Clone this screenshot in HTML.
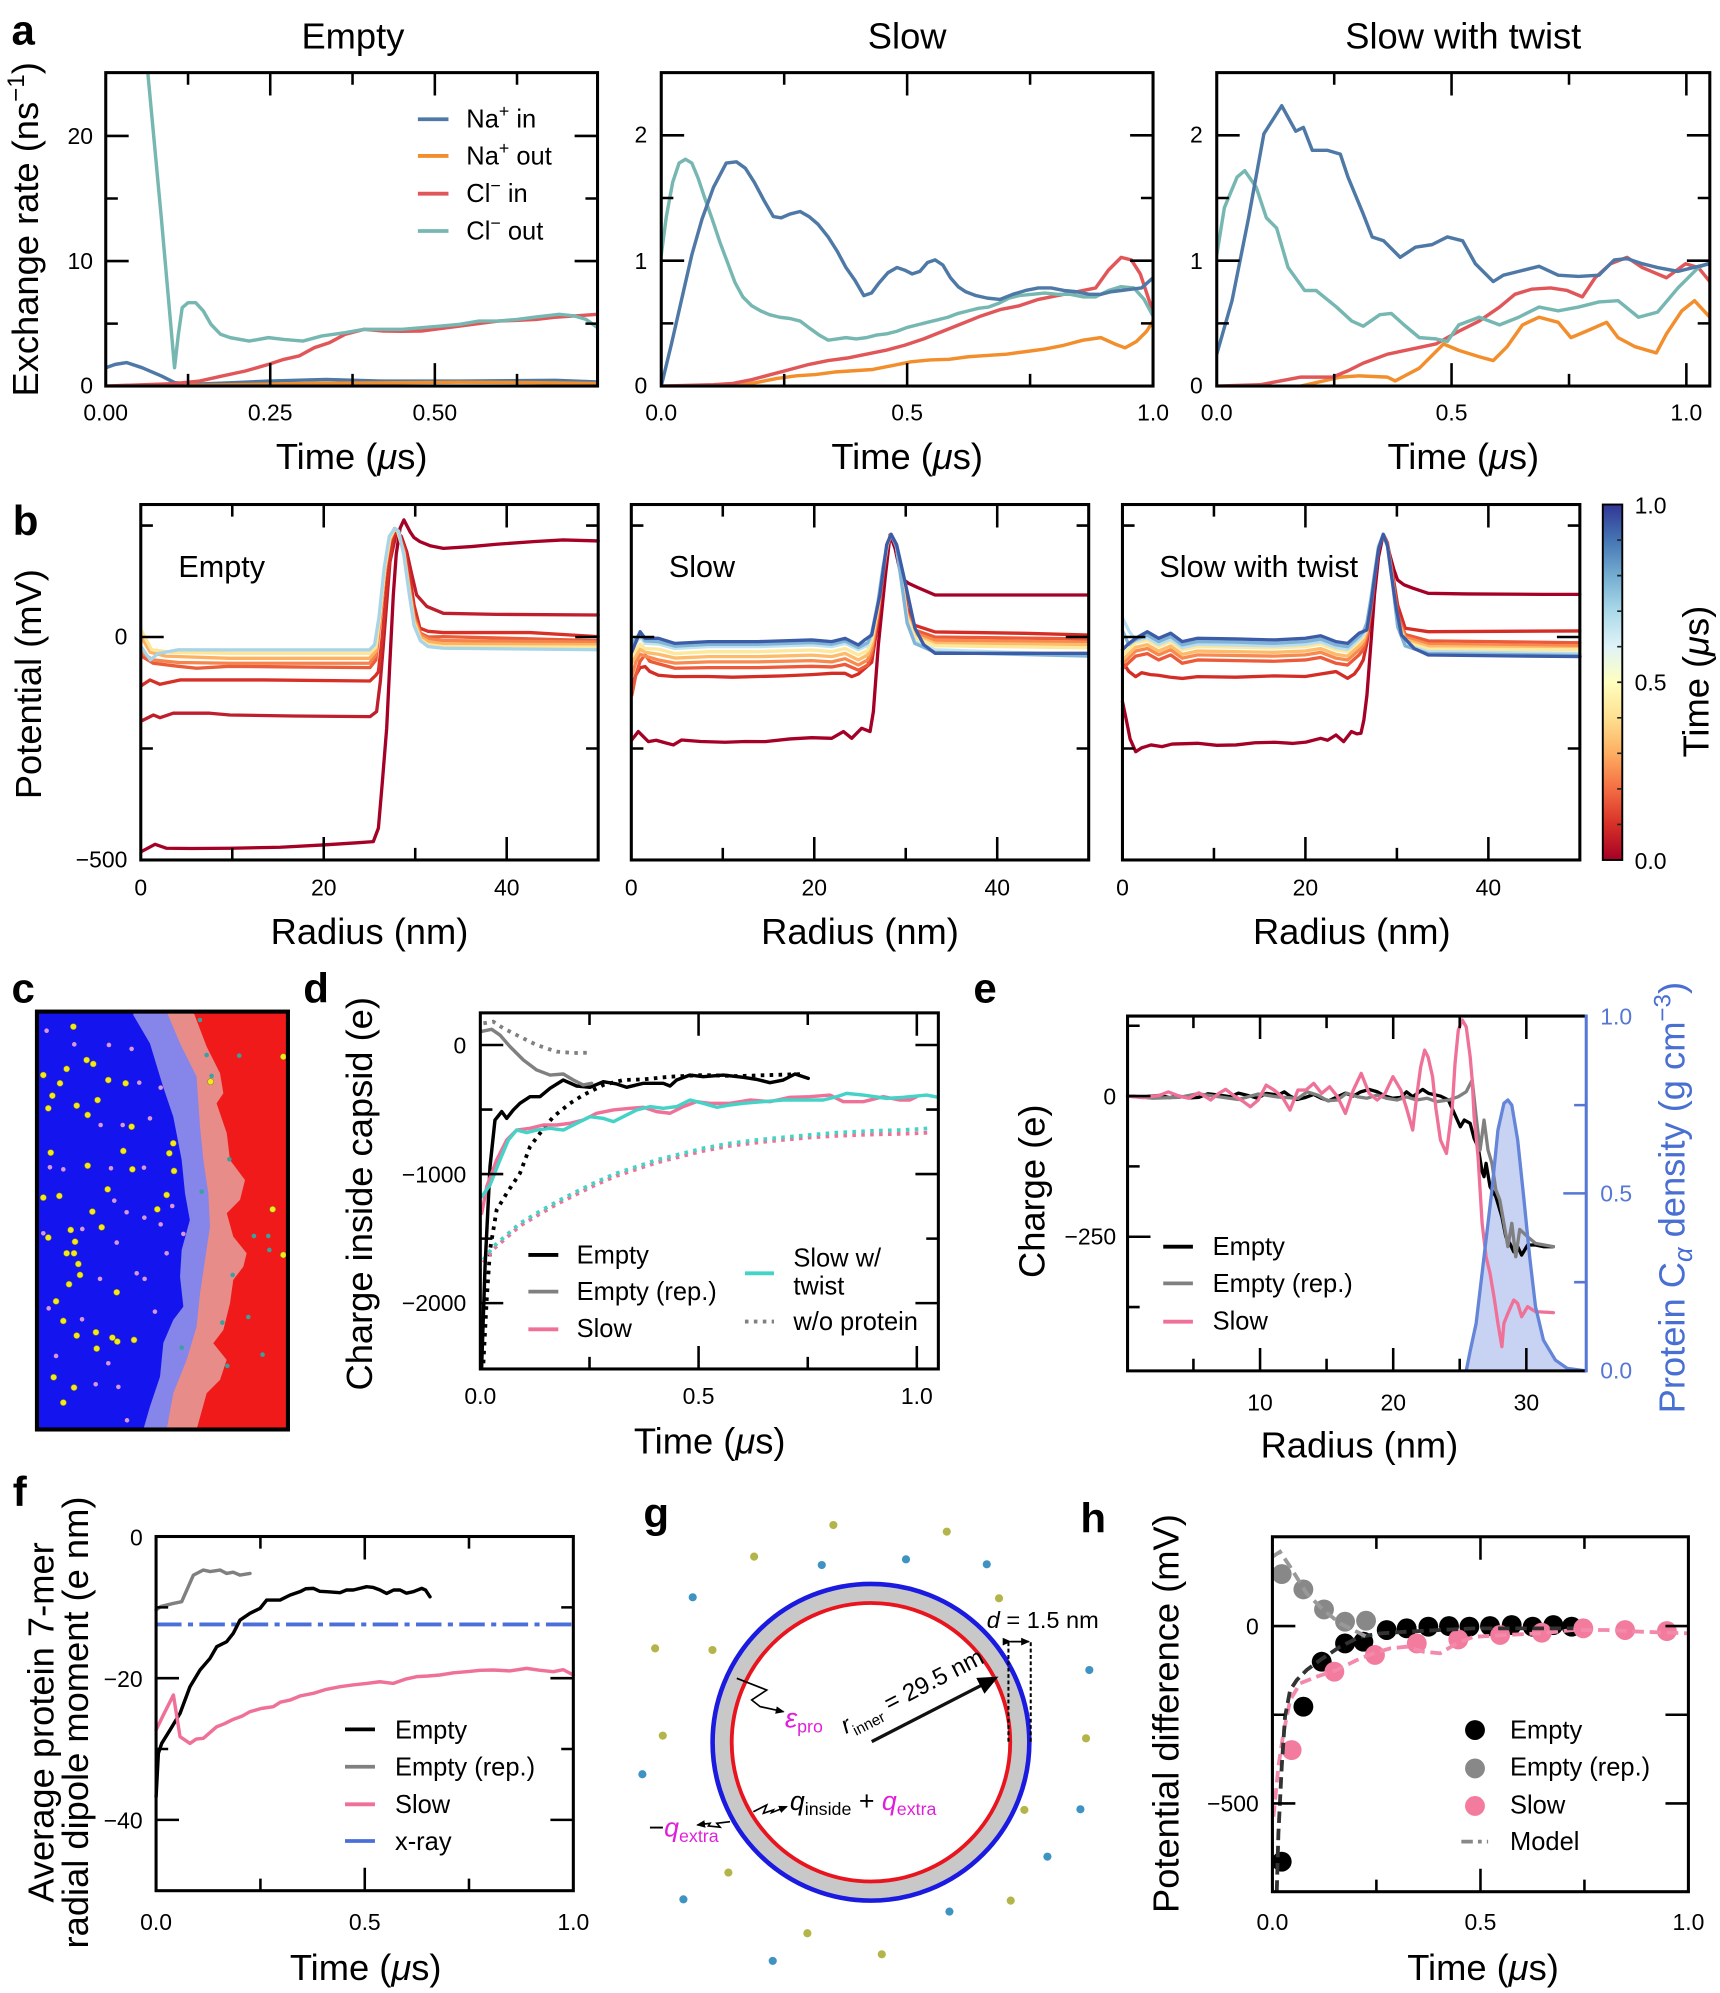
<!DOCTYPE html>
<html><head><meta charset="utf-8"><style>
html,body{margin:0;padding:0;background:#fff;}
svg{display:block;}
text{font-family:"Liberation Sans",Arial,sans-serif;fill:#000;}
.t{font-size:18px;}
.ax{font-size:28.5px;}
.lg{font-size:20px;}
.pl{font-size:33px;font-weight:bold;}
.sp{fill:none;stroke:#000;stroke-width:2.4;}
.tk{fill:none;stroke:#000;stroke-width:2;}
.ln{fill:none;stroke-width:2.7;stroke-linejoin:round;stroke-linecap:round;}
.lb{fill:none;stroke-width:2.6;stroke-linejoin:round;stroke-linecap:round;}
</style></head><body>
<svg xmlns="http://www.w3.org/2000/svg" width="1720" height="1993" viewBox="0 0 1350 1564.3" preserveAspectRatio="none">
<defs>
<clipPath id="ca1"><rect x="83" y="57" width="386" height="246"/></clipPath>
<clipPath id="ca2"><rect x="519" y="57" width="386" height="246"/></clipPath>
<clipPath id="ca3"><rect x="955" y="57" width="387" height="246"/></clipPath>
<clipPath id="cd"><rect x="377" y="795" width="359.5" height="279.5"/></clipPath>
<clipPath id="ch"><rect x="998.7" y="1206.2" width="326.5" height="278.6"/></clipPath>
<clipPath id="cc"><rect x="29" y="794" width="197" height="328"/></clipPath>
<linearGradient id="cb" x1="0" y1="1" x2="0" y2="0">
<stop offset="0" stop-color="#a50026"/><stop offset="0.1" stop-color="#d73027"/><stop offset="0.2" stop-color="#f46d43"/><stop offset="0.3" stop-color="#fdae61"/><stop offset="0.4" stop-color="#fee090"/><stop offset="0.5" stop-color="#ffffbf"/><stop offset="0.6" stop-color="#e0f3f8"/><stop offset="0.7" stop-color="#abd9e9"/><stop offset="0.8" stop-color="#74add1"/><stop offset="0.9" stop-color="#4575b4"/><stop offset="1" stop-color="#313695"/>
</linearGradient>
<marker id="ah" markerWidth="10" markerHeight="10" refX="8" refY="5" orient="auto" markerUnits="userSpaceOnUse"><path d="M0,0 L10,5 L0,10 Z" fill="#000"/></marker>
<marker id="ahs" markerWidth="7" markerHeight="7" refX="6" refY="3.5" orient="auto" markerUnits="userSpaceOnUse"><path d="M0,0.5 L7,3.5 L0,6.5 Z" fill="#000"/></marker>
<marker id="ahb" markerWidth="16" markerHeight="14" refX="13" refY="7" orient="auto" markerUnits="userSpaceOnUse"><path d="M0,0 L16,7 L0,14 Z" fill="#000"/></marker>
</defs>

<!-- Panel letters -->
<text class="pl" x="9" y="35">a</text>
<text class="pl" x="10" y="420">b</text>
<text class="pl" x="9" y="787">c</text>
<text class="pl" x="238" y="787">d</text>
<text class="pl" x="764" y="787">e</text>
<text class="pl" x="10" y="1182">f</text>
<text class="pl" x="505" y="1199">g</text>
<text class="pl" x="848" y="1203">h</text>

<!-- ================= PANEL A ================= -->
<text class="ax" x="277" y="38" text-anchor="middle">Empty</text>
<text class="ax" x="712" y="38" text-anchor="middle">Slow</text>
<text class="ax" x="1148.5" y="38" text-anchor="middle">Slow with twist</text>

<!-- A1 -->
<g clip-path="url(#ca1)">
<polyline class="ln" stroke="#4e79a7" points="83,288.6 90.5,286 99.5,284.6 111.5,288.6 126.6,295.1 137,300.3 150.6,301.7 180,300.5 210.7,299.1 255.7,297.8 300.8,299.1 360.9,299.1 435.9,298.5 469,299.8"/>
<polyline class="ln" stroke="#f28e2b" points="83,303 150,302.5 210,301.5 250,300.8 300,300.5 360,300 420,300.3 469,301"/>
<polyline class="ln" stroke="#e15759" points="83,303 135.6,301.2 156.6,299.1 174.6,295.1 192.6,291.2 210.7,286 222.7,282.1 234.7,279.4 246.7,272.9 258.7,268.9 270.8,262.4 285.8,258.5 300.8,259.8 315,260 330.8,259.8 345,258 360.9,255.9 375,254 390.9,252 405,251.5 420.9,250.7 435,249 451,248 469,246.7"/>
<polyline class="ln" stroke="#76b7b2" points="110.8,0 116,57 126.6,170.8 137,288.6 140,262.4 143,241.5 147.6,237.6 153.6,237.6 159.6,244.1 165.6,254.6 173.1,262.4 180.6,265 195.6,267.7 210.7,265 222.7,266.4 237.7,267.7 252.7,263.7 270.8,261.1 285.8,258.5 300.8,258.5 315.8,258.5 330.8,257.2 345.9,255.9 360.9,254.6 375.9,252 390.9,252 405.9,250.7 420.9,248.8 438.9,246.7 451,248 460,250.7 469,257.2"/>
</g>
<rect class="sp" x="83" y="57" width="386" height="246"/>
<path class="tk" d="M212.1 303v-18M341.3 303v-18M147.6 303v-9.5M276.7 303v-9.5M405.8 303v-9.5M212.1 57v18M341.3 57v18M147.6 57v9.5M276.7 57v9.5M405.8 57v9.5M83 204.9h18M83 106.7h18M83 254h9.5M83 155.8h9.5M469 204.9h-18M469 106.7h-18M469 254h-9.5M469 155.8h-9.5"/>
<text class="t" x="83" y="330" text-anchor="middle">0.00</text>
<text class="t" x="212.1" y="330" text-anchor="middle">0.25</text>
<text class="t" x="341.3" y="330" text-anchor="middle">0.50</text>
<text class="t" x="73" y="309" text-anchor="end">0</text>
<text class="t" x="73" y="211" text-anchor="end">10</text>
<text class="t" x="73" y="113" text-anchor="end">20</text>
<text class="ax" x="276" y="368" text-anchor="middle">Time (<tspan font-style="italic">μ</tspan>s)</text>
<text class="ax" transform="translate(30,180) rotate(-90)" text-anchor="middle">Exchange rate (ns<tspan font-size="19" dy="-11">−1</tspan><tspan dy="11">)</tspan></text>
<!-- legend A -->
<line x1="328" y1="93.6" x2="352" y2="93.6" stroke="#4e79a7" stroke-width="3"/>
<line x1="328" y1="122.4" x2="352" y2="122.4" stroke="#f28e2b" stroke-width="3"/>
<line x1="328" y1="152" x2="352" y2="152" stroke="#e15759" stroke-width="3"/>
<line x1="328" y1="181.3" x2="352" y2="181.3" stroke="#76b7b2" stroke-width="3"/>
<text class="lg" x="366" y="100">Na<tspan font-size="14" dy="-8">+</tspan><tspan dy="8"> in</tspan></text>
<text class="lg" x="366" y="129">Na<tspan font-size="14" dy="-8">+</tspan><tspan dy="8"> out</tspan></text>
<text class="lg" x="366" y="158.5">Cl<tspan font-size="14" dy="-8">−</tspan><tspan dy="8"> in</tspan></text>
<text class="lg" x="366" y="187.8">Cl<tspan font-size="14" dy="-8">−</tspan><tspan dy="8"> out</tspan></text>

<!-- A2 -->
<g clip-path="url(#ca2)">
<polyline class="ln" stroke="#f28e2b" points="519,303 580,302.5 595,300 610,297 625,295 640,294 655,292 670,291 685,290 700,287 715,284 730,282.5 745,282 760,280 775,279 790,278 805,276 820,274 835,271 850,267 864,265 875,270 883,273 892,268 900,260 905,252"/>
<polyline class="ln" stroke="#e15759" points="519,303 560,302 575,301 590,298 605,294 620,290 635,286 650,283 665,281 680,278 695,275 710,271 725,266 740,260 755,254 770,248 785,243 800,240 815,235 830,232 845,229 860,226 870,212 880,202 888,204 895,215 902,236 905,245"/>
<polyline class="ln" stroke="#76b7b2" points="519,200 523,170 528,143 533,128 538,125 543,128 548,140 553,155 559,172 565,190 571,206 577,222 583,233 590,240 597,244 604,247 612,249 620,250 628,252 636,258 643,263 650,267 657,266 664,265 672,266 680,265 688,263 696,262 704,260 712,257 720,255 728,253 736,251 744,249 752,246 760,244 768,242 776,241 784,238 792,234 800,232 810,231 820,230 830,231 840,231 850,233 860,233 870,228 880,225 890,226 898,235 905,248"/>
<polyline class="ln" stroke="#4e79a7" points="519,303 527,270 535,235 543,200 551,172 560,147 570,128 578,127 585,132 592,143 600,158 607,170 613,171 620,168 628,166 635,170 642,176 650,186 657,197 664,210 671,220 678,232 684,230 690,222 697,214 704,210 710,212 716,215 722,213 728,206 734,204 740,208 746,218 752,225 758,229 766,232 775,234 785,235 795,231 805,228 815,226 825,226 835,228 845,229 855,231 864,231 872,229 880,228 888,227 896,226 905,218"/>
</g>
<rect class="sp" x="519" y="57" width="386" height="246"/>
<path class="tk" d="M712 303v-18M615.5 303v-9.5M808.5 303v-9.5M712 57v18M615.5 57v9.5M808.5 57v9.5M519 204.6h18M519 106.2h18M519 253.8h9.5M519 155.4h9.5M905 204.6h-18M905 106.2h-18M905 253.8h-9.5M905 155.4h-9.5"/>
<text class="t" x="519" y="330" text-anchor="middle">0.0</text>
<text class="t" x="712" y="330" text-anchor="middle">0.5</text>
<text class="t" x="905" y="330" text-anchor="middle">1.0</text>
<text class="t" x="508" y="309" text-anchor="end">0</text>
<text class="t" x="508" y="211" text-anchor="end">1</text>
<text class="t" x="508" y="112" text-anchor="end">2</text>
<text class="ax" x="712" y="368" text-anchor="middle">Time (<tspan font-style="italic">μ</tspan>s)</text>

<!-- A3 -->
<g clip-path="url(#ca3)">
<polyline class="ln" stroke="#f28e2b" points="955,304 1021,303 1052,296 1067,295 1089,296 1095,299 1114,289 1133,270 1145,275 1161,280 1172,283 1183,272 1195,255 1208,249 1223,253 1233,265 1245,260 1261,253 1270,265 1283,272 1300,277 1308,262 1320,244 1330,236 1342,249"/>
<polyline class="ln" stroke="#e15759" points="955,303 989,302 1021,296 1046,296 1058,291 1070,285 1089,278 1108,274 1127,270 1145,260 1161,252 1177,241 1189,231 1202,227 1217,226 1230,228 1242,233 1252,218 1264,207 1277,202 1289,210 1308,218 1323,207 1333,210 1342,221"/>
<polyline class="ln" stroke="#76b7b2" points="955,200 961,163 971,139 977,134 986,147 994,171 1002,179 1011,210 1024,228 1033,228 1049,241 1061,252 1070,256 1083,247 1092,246 1102,255 1114,265 1127,266 1136,268 1145,255 1161,249 1177,255 1192,249 1208,241 1223,244 1239,241 1255,237 1270,236 1286,249 1301,245 1317,226 1333,210 1342,206"/>
<polyline class="ln" stroke="#4e79a7" points="955,278 967,236 980,171 992,105 1006,83 1017,103 1023,100 1030,118 1042,118 1052,121 1058,139 1070,168 1077,186 1086,189 1099,202 1111,194 1124,192 1136,186 1148,189 1158,207 1172,221 1180,216 1192,213 1208,209 1223,216 1239,217 1255,216 1267,204 1277,203 1289,207 1301,210 1317,213 1329,210 1342,207"/>
</g>
<rect class="sp" x="955" y="57" width="387" height="246"/>
<path class="tk" d="M1139.3 303v-18M1323.6 303v-18M1047.2 303v-9.5M1231.5 303v-9.5M1139.3 57v18M1323.6 57v18M1047.2 57v9.5M1231.5 57v9.5M955 204.6h18M955 106.2h18M955 253.8h9.5M955 155.4h9.5M1342 204.6h-18M1342 106.2h-18M1342 253.8h-9.5M1342 155.4h-9.5"/>
<text class="t" x="955" y="330" text-anchor="middle">0.0</text>
<text class="t" x="1139.3" y="330" text-anchor="middle">0.5</text>
<text class="t" x="1323.6" y="330" text-anchor="middle">1.0</text>
<text class="t" x="944" y="309" text-anchor="end">0</text>
<text class="t" x="944" y="211" text-anchor="end">1</text>
<text class="t" x="944" y="112" text-anchor="end">2</text>
<text class="ax" x="1148.5" y="368" text-anchor="middle">Time (<tspan font-style="italic">μ</tspan>s)</text>

<!-- ================= PANEL B ================= -->
<text class="ax" transform="translate(32,537) rotate(-90)" text-anchor="middle">Potential (mV)</text>
<!-- B1 Empty -->
<polyline class="lb" stroke="#a50026" points="111,668.4 121.7,662.7 130.8,665.8 150,666 180.5,665.8 220,665 253.8,663.2 280,661.5 293,660.6 297,650 300,615 303.5,571.6 306,520 308.7,467 311,435 314,414.7 317,408.1 321.8,417.3 325,422 329.6,425.1 338,428.5 348,430.4 370,429 389.8,427.2 420,425 442,423.8 469.5,424.6"/>
<polyline class="lb" stroke="#bf1e2d" points="111,565.9 120.4,561.2 125.6,563.3 136,559.8 164.8,559.8 180.5,561.2 230,562 290.4,562.5 295.6,558.5 298.5,535 300.9,506.2 306.1,440.8 311.3,417.3 315,421 319.2,433 323,450 327,467 335,476 348,481.4 389.8,482.2 469.5,482.7"/>
<polyline class="lb" stroke="#d73027" points="111,538.1 117.7,533.7 125.6,537.1 141.3,533.7 206.7,533.7 290.4,534.5 295,530 297,527.2 300,500 304,455 308,425 310.5,416 313,418 318,432 322,455 325,475 329.6,493.1 336,495.5 348,496.5 416,496.5 469.5,499.7"/>
<polyline class="lb" stroke="#e95d3b" points="111,515 120.4,520.6 140,523 154.4,524.5 180,523 230,523.5 290.4,524 295,518 298,490 302,450 306,425 309.5,415 312,417 317,432 321,458 325,483 330,497 336,500 348,499.7 469.5,502.8"/>
<polyline class="lb" stroke="#f5834b" points="111,512 120,518 140,520 180,520.6 290,520.6 295,514 298,488 302,448 306,424 309.7,415 312,417 317,433 321,460 325,485 330,498 336,501.5 348,502.8 469.5,504"/>
<polyline class="lb" stroke="#fdb163" points="111,500 118,512 130,515 180,516.7 290,516.7 295,511 298,485 302,447 306,423 309.8,415 312,417 317,434 321,462 325,487 330,500 336,503.5 348,505.4 469.5,506"/>
<polyline class="lb" stroke="#fee597" points="111,495 119,510 135,512 180,512.8 290,512.8 295,508 298,484 302,446 306,422 310,415 312.5,417 317,435 321,463 325,489 330,502 336,506 348,507.5 469.5,508"/>
<polyline class="lb" stroke="#a8d4e7" stroke-width="3.4" points="111,508 118,518 124,513 140,510 180,510.1 290,510.1 294,506 297.5,484 301.5,446 305.5,421 310,414.7 313,417 317,436 321,465 325,491 330,503 336,507.5 348,508.8 469.5,510"/>
<rect class="sp" x="110.5" y="396" width="359" height="279"/>
<path class="tk" d="M254.1 675v-18M397.7 675v-18M182.3 675v-9.5M325.9 675v-9.5M254.1 396v18M397.7 396v18M182.3 396v9.5M325.9 396v9.5M110.5 500h18M110.5 412.5h9.5M110.5 587.5h9.5M469.5 500h-18M469.5 412.5h-9.5M469.5 587.5h-9.5"/>
<text x="140" y="453" font-size="24">Empty</text>
<text class="t" x="110.5" y="703" text-anchor="middle">0</text>
<text class="t" x="254.1" y="703" text-anchor="middle">20</text>
<text class="t" x="397.7" y="703" text-anchor="middle">40</text>
<text class="t" x="100" y="506" text-anchor="end">0</text>
<text class="t" x="100" y="681" text-anchor="end">−500</text>
<text class="ax" x="290" y="741" text-anchor="middle">Radius (nm)</text>

<!-- B2 Slow -->
<polyline class="lb" stroke="#a50026" points="495.8,580.8 501,574.2 508.9,582.1 515,581 522,583 528.5,584.7 535,580.8 550,582 569.1,582.6 585,582 600.5,582.1 620,580 637.1,579 652.8,579.5 662,574.2 668.5,579.5 676.3,571.6 682.9,574.2 685.5,558.5 689.4,506.2 694.7,453.9 698.6,419.9 702.5,430.4 707.7,453.9 713,457.8 720,461 733.9,467 804.5,467 854.2,467"/>
<polyline class="lb" stroke="#d42d26" points="496,537.6 499,530 502.4,524 506.3,523.2 510,527 516.8,530 529.8,531.1 545,531 556,531 575,531.5 595,531 615,530.5 637,529.5 652.8,528.5 663.3,528.5 668.5,531.1 673.7,529 678.9,524.5 684.2,519.8 689,488.6 693,452.9 696.5,428.3 699.4,419.4 703.5,427.2 707.5,450.4 712,477.6 718,490.8 733.9,496 804.5,497.1 854.2,498.4"/>
<polyline class="lb" stroke="#ec5a3a" points="496,545.5 499,530 502.4,519 506.3,514 510,519 516.8,521 529.8,524.5 556,524 595,524 637,523 652.8,523.5 663.3,521.5 673.7,526 681,522 684.2,513.5 689,481.8 693,450.5 696.5,426 699.4,419.4 703.5,427.6 707.5,452 712,480.6 718,494.5 733.9,500 854.2,501.5"/>
<polyline class="lb" stroke="#f8894f" points="496,530 499,520 502.4,513.5 506.3,515 516.8,518 529.8,520.5 556,519.5 595,519.5 637,518.5 652.8,519.5 663.3,517 673.7,522 681,518 684.2,509.5 689,481.5 693,449.5 696.5,427.4 699.4,419.4 703.5,427.8 707.5,453.1 712,482.3 718,496.9 733.9,502.5 854.2,504"/>
<polyline class="lb" stroke="#fdbb6c" points="496,520 502.4,509.5 506.3,512 516.8,513.5 529.8,516.5 556,515.4 595,515.4 637,514.2 652.8,515.4 663.3,512.8 673.7,518 681,514 684.2,505.8 689,479 693,448.9 696.5,427.1 699.4,419.4 703.5,428 707.5,454 712,483.6 718,498.8 733.9,505 854.2,506"/>
<polyline class="lb" stroke="#fee89c" points="496,514 502.4,505.5 506.3,509 516.8,509.5 529.8,513 556,511.5 595,511.5 637,510.2 652.8,511.5 663.3,509 673.7,514 681,510.5 684.2,502.3 689,476.6 693,447.3 696.5,426.8 699.4,419.4 703.5,428.2 707.5,454.8 712,485 718,500.4 733.9,506.8 854.2,508.5"/>
<polyline class="lb" stroke="#c1e3ef" points="496,509 502.4,500 506.3,505 516.8,505.5 529.8,509 556,507.5 595,507.5 637,506.2 652.8,507.5 663.3,505 673.7,510 681,506.5 684.2,498.7 689,474 693,446 696.5,426.4 699.4,419.4 703.5,428.6 707.5,456 712,488 718,503.5 733.9,510 854.2,514"/>
<polyline class="lb" stroke="#80b5d7" points="496,505 502.4,497 506.3,503 516.8,503.7 529.8,507.2 556,505.7 595,505.7 637,504.4 652.8,505.7 663.3,503.1 673.7,508.3 681,504.5 684.2,497 689,473 693,445.6 696.5,426.3 699.4,419.4 703.5,428.7 707.5,456.5 712,489 718,505 733.9,512 854.2,515"/>
<polyline class="lb" stroke="#3d5ca8" stroke-width="3" points="496,511.5 502.4,495.8 506.3,501 516.8,501 529.8,505 556,503.6 595.2,503.6 637,502.3 652.8,503.6 663.3,501 673.7,506.2 679,502 684.2,498.4 690.6,467 695.9,427.7 699.4,419.4 703.8,427.7 710.3,456.5 718.2,493.2 725,506 733.9,512.8 800,512.8 854.2,512.8"/>
<rect class="sp" x="495.5" y="396" width="359" height="279"/>
<path class="tk" d="M639.1 675v-18M782.7 675v-18M567.3 675v-9.5M710.9 675v-9.5M639.1 396v18M782.7 396v18M567.3 396v9.5M710.9 396v9.5M495.5 500h18M495.5 412.5h9.5M495.5 587.5h9.5M854.5 500h-18M854.5 412.5h-9.5M854.5 587.5h-9.5"/>
<text x="525" y="453" font-size="24">Slow</text>
<text class="t" x="495.5" y="703" text-anchor="middle">0</text>
<text class="t" x="639.1" y="703" text-anchor="middle">20</text>
<text class="t" x="782.7" y="703" text-anchor="middle">40</text>
<text class="ax" x="675" y="741" text-anchor="middle">Radius (nm)</text>

<!-- B3 Twist -->
<polyline class="lb" stroke="#a50026" points="881,550.7 884,565 887,580 891.4,590 896,587 903.4,584.7 912,586 920,584 940,583.4 955,585 970.2,584.7 985,583 1000.4,582.6 1015,583.5 1025,582.5 1036.6,579.5 1042,581 1048.6,576.9 1054.6,582.1 1060.7,574.2 1065,576 1068.2,575.5 1070.5,565 1072.9,545.5 1076,505 1078.8,467 1082,437 1085.7,419.4 1088,424 1090.9,435.6 1094,447 1096.9,455.2 1102,459 1109,461.7 1121,465.7 1151.2,466.2 1211.5,466.5 1240,466.5"/>
<polyline class="lb" stroke="#d42d26" points="881,519.3 886,527 891.4,531.1 896,528 903,529.5 909,530 918,531.5 928,532.5 940,531.1 970,531.5 1000,530.5 1024.5,531 1036.6,529 1048.6,527.1 1057.7,532.4 1063,529 1066.7,524 1070,518 1072.8,505 1076,480 1079,455 1082,432 1085.7,419.4 1089,426 1093,450 1097,475 1102.9,493.1 1121,495.8 1180,495.5 1240,495.2"/>
<polyline class="lb" stroke="#ec5a3a" points="881,525 886,520 891.4,515 900.5,513 909.4,518 918.9,514 927.9,520.6 940,518 970,518.5 1000,519 1024.5,518 1036.6,516 1048.6,520.6 1057.7,522 1066.7,514 1070,510 1072.8,500 1076,478 1079,453 1082,431 1085.7,419.4 1089,427 1093,454 1097,482 1102.9,498 1121,503 1240,504.5"/>
<polyline class="lb" stroke="#f8894f" points="881,521 886,516 891.4,511 900.5,509 909.4,514 918.9,510 927.9,516.6 940,514 970,514.5 1000,515 1024.5,514 1036.6,512 1048.6,516.6 1057.7,518 1066.7,510 1070,506 1072.8,497 1076,476 1079,452 1082,430 1085.7,419.4 1089,427.5 1093,455 1097,485 1102.9,500 1121,505.5 1240,507"/>
<polyline class="lb" stroke="#fdbb6c" points="881,518 891.4,508 900.5,506 909.4,511 918.9,507 927.9,513.6 940,511 970,511.5 1000,512 1024.5,511 1036.6,509 1048.6,513.6 1057.7,515 1066.7,507 1070,503 1072.8,495 1076,474 1079,451 1082,430 1085.7,419.4 1089,428 1093,456 1097,487 1102.9,502 1121,507.5 1240,509"/>
<polyline class="lb" stroke="#fee89c" points="881,514 891.4,504.5 900.5,502.5 909.4,507.5 918.9,503.5 927.9,510 940,507.5 970,508 1000,508.5 1024.5,507.5 1036.6,505.5 1048.6,510 1057.7,511.5 1066.7,503.5 1070,500 1072.8,492 1076,472 1079,450 1082,429 1085.7,419.4 1089,428.5 1093,457 1097,489 1102.9,504 1121,509.4 1240,510"/>
<polyline class="lb" stroke="#b9def0" points="881,485 886,495 891.4,503 900.5,500.5 909.4,505.7 918.9,501.7 927.9,508.3 940,505.7 970,506.2 1000,507 1024.5,505.7 1036.6,503.7 1048.6,508.3 1057.7,509.7 1066.7,501.7 1070,498 1072.8,490 1076,470 1079,449 1082,429 1085.7,419.4 1089,429 1093,458 1097,491 1102.9,506 1121,511.5 1240,513"/>
<polyline class="lb" stroke="#7fb2d6" points="881,495 886,506 891.4,502 900.5,498.4 909.4,503.6 918.9,499.6 927.9,506.2 940,503.6 970,504 1000,505 1024.5,503.6 1036.6,501.6 1048.6,506.2 1057.7,507.6 1066.7,499.6 1070,496 1072.8,489 1076,470 1079,449 1082,429 1085.7,419.4 1089,429 1093,458 1097,492 1102.9,507 1121,513 1240,514.5"/>
<polyline class="lb" stroke="#3d5ca8" stroke-width="3" points="881,510 886,505 891.4,501 900.5,495.8 909.4,501 918.9,497 927.9,503.6 940,501 970.2,501.5 1000.4,502.3 1024.5,501 1036.6,499 1048.6,503.6 1057.7,505 1066.7,497 1072.8,494.5 1076,475 1078.8,453.9 1082,431 1085.7,419.4 1089,428 1092.5,453.9 1096,478 1100,498.4 1110,509 1121,514.1 1180,514.8 1240.2,515.4"/>
<rect class="sp" x="881" y="396" width="359" height="279"/>
<path class="tk" d="M1024.6 675v-18M1168.2 675v-18M952.8 675v-9.5M1096.4 675v-9.5M1024.6 396v18M1168.2 396v18M952.8 396v9.5M1096.4 396v9.5M881 500h18M881 412.5h9.5M881 587.5h9.5M1240 500h-18M1240 412.5h-9.5M1240 587.5h-9.5"/>
<text x="910" y="453" font-size="24">Slow with twist</text>
<text class="t" x="881" y="703" text-anchor="middle">0</text>
<text class="t" x="1024.6" y="703" text-anchor="middle">20</text>
<text class="t" x="1168.2" y="703" text-anchor="middle">40</text>
<text class="ax" x="1061" y="741" text-anchor="middle">Radius (nm)</text>

<!-- colorbar -->
<rect x="1258" y="396" width="15.3" height="279" fill="url(#cb)" stroke="#000" stroke-width="1.5"/>
<path d="M1273.3 647.1h-4M1273.3 619.2h-4M1273.3 591.3h-4M1273.3 563.4h-4M1273.3 535.5h-4M1273.3 507.6h-4M1273.3 479.7h-4M1273.3 451.8h-4M1273.3 423.9h-4" stroke="#222" stroke-width="1.3"/>
<text class="t" x="1283" y="403">1.0</text>
<text class="t" x="1283" y="542">0.5</text>
<text class="t" x="1283" y="682">0.0</text>
<text class="ax" transform="translate(1341,535) rotate(-90)" text-anchor="middle">Time (<tspan font-style="italic">μ</tspan>s)</text>

<!-- ================= PANEL C ================= -->
<g clip-path="url(#cc)">
<rect x="29" y="794" width="197" height="328" fill="#1414ee"/>
<polygon fill="#8585ea" points="104.6,794 104.6,796.7 117.7,819 128,853 136,876.5 142.6,910.5 145.2,936.6 149,957.6 142.6,981 141.3,1002 143.9,1025.6 136,1036 128.2,1054 125.6,1080.5 117.7,1104 112.5,1122 226,1122 226,794"/>
<polygon fill="#e78c88" points="130.8,794 141.3,819 154.3,845 157,884.3 159.6,910.5 163.5,936.6 164.8,962.8 160.9,989 157,1015 154.3,1041.3 146.5,1067.4 136,1093.6 130.8,1122 226,1122 226,794"/>
<polygon fill="#f01a1a" points="151.7,794 162.2,821.5 172.7,842.4 175.3,858.1 170,866 178,889.5 180.5,910.5 192.3,926.2 188.4,941.8 178,952.3 183.1,970.6 193.6,983.7 191,994.2 183.1,1004.6 180.5,1023 175.3,1043.9 167.4,1054.3 177.9,1067.4 172.7,1083.1 162.2,1093.6 154.3,1122 226,1122 226,794"/>
<g fill="#f3ea1e" stroke="#8c8410" stroke-width="0.4">
<circle cx="57.6" cy="805.8" r="2.4"/><circle cx="34" cy="843.8" r="2.4"/><circle cx="68" cy="832" r="2.4"/><circle cx="73.2" cy="835.1" r="2.4"/><circle cx="52.3" cy="839" r="2.4"/><circle cx="47.1" cy="850.3" r="2.4"/><circle cx="41.1" cy="860" r="2.4"/><circle cx="85" cy="847.7" r="2.4"/><circle cx="98.6" cy="850.3" r="2.4"/><circle cx="37.9" cy="869.9" r="2.4"/><circle cx="60.2" cy="867.8" r="2.4"/><circle cx="68.8" cy="875.1" r="2.4"/><circle cx="76.6" cy="863.4" r="2.4"/><circle cx="103.3" cy="884.3" r="2.4"/><circle cx="136" cy="897.4" r="2.4"/><circle cx="132.9" cy="905.2" r="2.4"/><circle cx="39.8" cy="904.7" r="2.4"/><circle cx="96.8" cy="903.4" r="2.4"/><circle cx="68.8" cy="914.9" r="2.4"/><circle cx="103.9" cy="917.8" r="2.4"/><circle cx="136.6" cy="919.1" r="2.4"/><circle cx="34" cy="940" r="2.4"/><circle cx="46.6" cy="938.7" r="2.4"/><circle cx="84.5" cy="933.5" r="2.4"/><circle cx="130.8" cy="937.9" r="2.4"/><circle cx="123.5" cy="949.2" r="2.4"/><circle cx="72.5" cy="951" r="2.4"/><circle cx="55.5" cy="965.4" r="2.4"/><circle cx="79.8" cy="963.3" r="2.4"/><circle cx="37.9" cy="971.4" r="2.4"/><circle cx="58.9" cy="974.6" r="2.4"/><circle cx="52.3" cy="983.7" r="2.4"/><circle cx="58.1" cy="983.7" r="2.4"/><circle cx="61.5" cy="992.1" r="2.4"/><circle cx="62.8" cy="1000.7" r="2.4"/><circle cx="54.2" cy="1008" r="2.4"/><circle cx="91.6" cy="1014.3" r="2.4"/><circle cx="44" cy="1021.4" r="2.4"/><circle cx="49.7" cy="1036.8" r="2.4"/><circle cx="60.2" cy="1048.3" r="2.4"/><circle cx="75.3" cy="1045.7" r="2.4"/><circle cx="88.2" cy="1049.9" r="2.4"/><circle cx="92.1" cy="1053" r="2.4"/><circle cx="105.2" cy="1051.7" r="2.4"/><circle cx="75.9" cy="1058.5" r="2.4"/><circle cx="42.1" cy="1081" r="2.4"/><circle cx="58.1" cy="1089.1" r="2.4"/><circle cx="49.7" cy="1100.9" r="2.4"/><circle cx="165.3" cy="849" r="2.4"/><circle cx="214" cy="949.2" r="2.4"/><circle cx="222.4" cy="985" r="2.4"/><circle cx="222.4" cy="829.4" r="2.4"/>
</g>
<g fill="#d898d8">
<circle cx="36.6" cy="809" r="1.8"/><circle cx="58.3" cy="819.7" r="1.8"/><circle cx="85.5" cy="820.2" r="1.8"/><circle cx="103.3" cy="823.3" r="1.8"/><circle cx="109.3" cy="849.8" r="1.8"/><circle cx="126.1" cy="853.7" r="1.8"/><circle cx="117.7" cy="877.8" r="1.8"/><circle cx="79" cy="883" r="1.8"/><circle cx="96.3" cy="883" r="1.8"/><circle cx="39.2" cy="916.2" r="1.8"/><circle cx="49.7" cy="917.8" r="1.8"/><circle cx="87.1" cy="917" r="1.8"/><circle cx="113" cy="916.5" r="1.8"/><circle cx="89.7" cy="942.4" r="1.8"/><circle cx="99.4" cy="951.5" r="1.8"/><circle cx="113.3" cy="955.7" r="1.8"/><circle cx="126.1" cy="961" r="1.8"/><circle cx="135.2" cy="946.6" r="1.8"/><circle cx="64.6" cy="964.6" r="1.8"/><circle cx="34" cy="968" r="1.8"/><circle cx="91.6" cy="975.3" r="1.8"/><circle cx="130.8" cy="983.7" r="1.8"/><circle cx="107.3" cy="999.4" r="1.8"/><circle cx="113.5" cy="1003.8" r="1.8"/><circle cx="78.5" cy="1003.8" r="1.8"/><circle cx="38.2" cy="1026.9" r="1.8"/><circle cx="64.4" cy="1035.5" r="1.8"/><circle cx="121.6" cy="1029.5" r="1.8"/><circle cx="44" cy="1064.3" r="1.8"/><circle cx="85" cy="1070" r="1.8"/><circle cx="75.1" cy="1086.5" r="1.8"/><circle cx="92.9" cy="1088.6" r="1.8"/><circle cx="99.7" cy="1114.8" r="1.8"/><circle cx="143.9" cy="968.5" r="1.8"/>
</g>
<g fill="#3aa0a0">
<circle cx="157" cy="800.6" r="1.8"/><circle cx="162.2" cy="828.1" r="1.8"/><circle cx="187.8" cy="828.6" r="1.8"/><circle cx="166.1" cy="844.5" r="1.8"/><circle cx="180" cy="909.9" r="1.8"/><circle cx="158.3" cy="935.3" r="1.8"/><circle cx="199.3" cy="970.1" r="1.8"/><circle cx="210.6" cy="970.1" r="1.8"/><circle cx="211.4" cy="981.1" r="1.8"/><circle cx="182.6" cy="1000.7" r="1.8"/><circle cx="194.9" cy="1033.7" r="1.8"/><circle cx="174.5" cy="1038.1" r="1.8"/><circle cx="206.1" cy="1063.2" r="1.8"/><circle cx="178.4" cy="1072.1" r="1.8"/><circle cx="142.6" cy="1057.7" r="1.8"/>
</g>
</g>
<rect x="29" y="794" width="197" height="328" fill="none" stroke="#000" stroke-width="3.2"/>

<!-- ================= PANEL D ================= -->
<g clip-path="url(#cd)">
<g fill="none" stroke-width="3" stroke-dasharray="2.8 4.2">
<polyline stroke="#808080" points="379.4,803.2 387.2,801.9 395.1,807.1 408.1,813.7 421.2,820.2 436.9,825.4 450,826.5 464.4,826.2"/>
<polyline stroke="#000" points="379.4,1070 382,1020.3 384.6,981.1 389.8,949.7 397.7,936.6 408.1,920.9 416,900 423.8,889.5 434.3,876.5 447.4,866 457.8,859.5 473.5,851.6 489.2,847.7 504.9,847.2 525.9,845.1 552,843.8 578.2,844.6 604.3,843.8 630.5,843"/>
<polyline stroke="#ef7198" points="379.4,991 387.2,980.5 397.7,971.3 408.1,962.2 421.2,954.3 436.9,945.2 452.6,937.3 468.3,929.5 484,922.9 499.7,917.7 515.4,912.5 531.1,908.5 552,903.3 572.9,899.4 593.9,896.8 614.8,894.7 635.7,892.8 656.7,891.5 682.8,890.5 709,889.9 730,889"/>
<polyline stroke="#45d3c7" points="379.4,988.9 387.2,978.5 397.7,969.3 408.1,960.2 421.2,952.3 436.9,943.2 452.6,935.3 468.3,927.5 484,920.9 499.7,915.7 515.4,910.5 531.1,906.5 552,901.3 572.9,897.4 593.9,894.8 614.8,892.7 635.7,890.8 656.7,889 682.8,887.7 709,886.9 730,885.6"/>
</g>
<polyline class="ln" stroke="#000" points="378,1074 380.7,994.2 384.6,915.7 388.5,879.1 393.8,872.5 397.7,877.8 402.9,871.2 408.1,866 416,860.8 423.8,860.8 431.7,854.2 442.1,847.7 452.6,852.4 463.1,853.4 473.5,849 484,850.8 491.8,853.4 504.9,850.3 520.6,850.3 525.9,852.4 531.1,847.7 541.6,843.8 552,845.1 567.7,843.8 583.4,845.6 593.9,847.2 604.3,849.8 614.8,847.7 624,843 634.4,846.4"/>
<polyline class="ln" stroke="#808080" points="376.8,809.8 385.9,807.9 392.4,812.4 400.3,821.5 410.8,832 421.2,839.8 431.7,843.8 442.1,843 450,847.7 457.8,851.6 464.4,850.3"/>
<polyline class="ln" stroke="#ef7198" points="378.1,952.3 382,931.4 389.8,910.5 397.7,894.8 405.5,887 416,885.6 426.4,883 436.9,883 447.4,881.7 457.8,879.1 468.3,873.8 481.4,871.2 494.5,869.9 504.9,869.1 515.4,872.5 525.9,873.8 536.3,868.6 546.8,864.7 557.2,866 572.9,866 588.6,863.4 604.3,864.7 620,861.3 635.7,860.8 651.4,859.5 661.9,864.7 677.6,864.7 693.3,860.8 706.4,863.4 714.2,863.4 719.4,860.8"/>
<polyline class="ln" stroke="#45d3c7" points="378.1,939.2 384.6,930.1 392.4,910.5 399,894.8 405.5,887 413.4,889 421.2,887 431.7,885.6 442.1,887 452.6,881.7 463.1,876.5 473.5,877.8 481.4,880.4 489.2,876.5 499.7,871.2 510.2,868.6 520.6,869.9 531.1,868.6 541.6,863.4 552,866 562.5,869.1 572.9,867.3 583.4,866 599.1,864.7 614.8,863.4 630.5,863.4 646.2,863.4 656.7,860.8 664.5,858.2 677.6,859.5 695.9,862.1 709,861.3 727.3,859.5 736.5,861.3"/>
</g>
<rect class="sp" x="377" y="795" width="359.5" height="279.5"/>
<path class="tk" d="M548.3 1074.5v-18M719.6 1074.5v-18M462.7 1074.5v-9.5M634 1074.5v-9.5M548.3 795v18M719.6 795v18M462.7 795v9.5M634 795v9.5M377 820.2h18M377 921.5h18M377 1022.8h18M377 870.9h9.5M377 972.2h9.5M736.5 820.2h-18M736.5 921.5h-18M736.5 1022.8h-18M736.5 870.9h-9.5M736.5 972.2h-9.5"/>
<text class="t" x="377" y="1102" text-anchor="middle">0.0</text>
<text class="t" x="548.3" y="1102" text-anchor="middle">0.5</text>
<text class="t" x="719.6" y="1102" text-anchor="middle">1.0</text>
<text class="t" x="366" y="827" text-anchor="end">0</text>
<text class="t" x="366" y="928" text-anchor="end">−1000</text>
<text class="t" x="366" y="1029" text-anchor="end">−2000</text>
<text class="ax" x="557" y="1141" text-anchor="middle">Time (<tspan font-style="italic">μ</tspan>s)</text>
<text class="ax" transform="translate(292,937) rotate(-90)" text-anchor="middle">Charge inside capsid (e)</text>
<line x1="414.7" y1="985" x2="438.2" y2="985" stroke="#000" stroke-width="3"/>
<line x1="414.7" y1="1013.8" x2="438.2" y2="1013.8" stroke="#808080" stroke-width="3"/>
<line x1="414.7" y1="1043.4" x2="438.2" y2="1043.4" stroke="#ef7198" stroke-width="3"/>
<line x1="584.7" y1="999.4" x2="607.5" y2="999.4" stroke="#45d3c7" stroke-width="3"/>
<line x1="584.7" y1="1037.3" x2="607.5" y2="1037.3" stroke="#808080" stroke-width="3" stroke-dasharray="2.8 4.2"/>
<text class="lg" x="452.6" y="991.6">Empty</text>
<text class="lg" x="452.6" y="1020.3">Empty (rep.)</text>
<text class="lg" x="452.6" y="1049.6">Slow</text>
<text class="lg" x="622.7" y="994.2">Slow w/</text>
<text class="lg" x="622.7" y="1016">twist</text>
<text class="lg" x="622.7" y="1044">w/o protein</text>

<!-- ================= PANEL E ================= -->
<path d="M1150.8,1076 L1154,1060 1158.6,1038.7 1164.8,986.4 1171,934 1175.7,887 1180.4,866 1183.5,863.4 1186.6,867.4 1191.2,894.8 1195.9,939.3 1200.6,986.4 1205.2,1025.6 1211.4,1051.8 1220.8,1067.5 1230.1,1074 1245,1076 Z" fill="#c8d2f2"/>
<polyline class="lb" stroke="#000" points="885,860.3 897,861 909.9,859.8 918,861.5 925.4,860.3 933,861.8 941,861.3 948,858.5 956.5,859.5 965.8,860.8 972,858 981.4,860.3 987,862 993.8,858.2 1003.1,859.5 1008,857 1012.5,860.3 1018,863 1024.9,861.3 1031,859 1037.3,862.1 1043,864 1049.8,860.8 1056,858 1062.2,860.3 1068,857 1074.6,855.1 1080.9,856.9 1087.1,860.3 1093,862 1099.5,861.3 1104,857 1108.8,860.8 1116.6,855.1 1121.3,858.2 1130.6,860.3 1136.8,863.4 1141.5,873.9 1146.2,884.4 1149.3,879.1 1153.9,881.7 1157,893.5 1160.1,900.1 1163.3,919.7 1164.8,923.6 1166.4,913.1 1169.5,931.4 1174.1,939.3 1178.8,955 1181.9,970.7 1185,975.9 1188.1,982.5 1191.2,978.5 1194.3,985.1 1199,977.2 1205.2,977.2 1211.4,978.5 1219.2,978.5"/>
<polyline class="lb" stroke="#808080" points="885,860.3 905,862 925.4,861.3 940,858.5 956.5,860.8 972,863 987.6,858.7 1003,861 1018.7,862.1 1026,857 1034.2,859.5 1042,864 1049.8,863.4 1057,858 1065.3,860.8 1073,862 1080.9,859.5 1088,862 1096.4,863.4 1104,861 1111.9,863.4 1120,862 1127.5,864.7 1136.8,863.4 1144.6,860.8 1150.8,856.9 1155.5,847.7 1158.6,876.5 1161.7,902.7 1164.8,879.1 1167.9,902.7 1171,913.1 1174.1,934 1177.2,942 1180.4,960.2 1183.5,978.5 1186.6,960.2 1189.7,986.4 1192.8,965 1199,970.7 1205.2,975.9 1219.2,978.5"/>
<polyline class="lb" stroke="#ef7198" points="885,860.3 897,861.5 909.9,859.8 917,857 925.4,860.3 933,862 941,857.7 950.3,863.4 956.5,858.2 962,855 968.9,860.3 975,864 981.4,868.7 987.6,863.4 993.8,851.7 1000,855.6 1006.3,860.8 1012.5,871.3 1018.7,855.6 1024.9,855.6 1031.1,850.3 1037.3,858.2 1043.6,853 1049.8,860.8 1056,873.9 1062.2,855.6 1068.4,842.5 1074.6,858.2 1080.9,863.4 1087.1,858.2 1093.3,845.1 1099.5,855.6 1104,870 1108.8,887 1112,860 1115.1,837.3 1118.2,824.2 1121,830 1124.4,845.1 1127,870 1130.6,894.8 1135.3,905.3 1139.9,868.7 1142,835 1144.6,808.5 1147.7,800.6 1150.8,805.9 1153.9,829.4 1155.5,847.7 1157,876.5 1160.1,907.9 1163.3,960.2 1166.4,986.4 1169.5,999.5 1172.6,1017.8 1175.7,1038.7 1178.8,1057 1180.4,1038.7 1183.5,1030.9 1188.1,1020.4 1191.2,1023 1194.3,1033.5 1199,1025.6 1205.2,1029.5 1219.2,1030.3"/>
<polyline fill="none" stroke="#6485d8" stroke-width="2.6" stroke-linejoin="round" points="1150.8,1076 1154,1060 1158.6,1038.7 1164.8,986.4 1171,934 1175.7,887 1180.4,866 1183.5,863.4 1186.6,867.4 1191.2,894.8 1195.9,939.3 1200.6,986.4 1205.2,1025.6 1211.4,1051.8 1220.8,1067.5 1230.1,1074 1245,1076"/>
<path class="sp" d="M1245 797.5H885V1076H1245"/>
<line x1="1245" y1="796.3" x2="1245" y2="1077.2" stroke="#5677d4" stroke-width="2.4"/>
<path class="tk" d="M989 1076v-18M1093.5 1076v-18M1198 1076v-18M936.7 1076v-9.5M1041.2 1076v-9.5M1145.7 1076v-9.5M989 797.5v18M1093.5 797.5v18M1198 797.5v18M936.7 797.5v9.5M1041.2 797.5v9.5M1145.7 797.5v9.5M885 860.3h18M885 970.7h18M885 805.1h9.5M885 915.5h9.5M885 1025.9h9.5"/>
<path d="M1245 936.7h-18M1245 867.4h-9.5M1245 1006.4h-9.5" stroke="#5677d4" stroke-width="2" fill="none"/>
<text class="t" x="989" y="1107" text-anchor="middle">10</text>
<text class="t" x="1093.5" y="1107" text-anchor="middle">20</text>
<text class="t" x="1198" y="1107" text-anchor="middle">30</text>
<text class="t" x="876" y="867" text-anchor="end">0</text>
<text class="t" x="876" y="977" text-anchor="end">−250</text>
<text class="t" x="1256" y="804" style="fill:#5677d4">1.0</text>
<text class="t" x="1256" y="943" style="fill:#5677d4">0.5</text>
<text class="t" x="1256" y="1082" style="fill:#5677d4">0.0</text>
<text class="ax" x="1067" y="1144" text-anchor="middle">Radius (nm)</text>
<text class="ax" transform="translate(820,935) rotate(-90)" text-anchor="middle">Charge (e)</text>
<text class="ax" transform="translate(1322,940) rotate(-90)" text-anchor="middle" style="fill:#4a6fd2">Protein C<tspan font-size="20" font-style="italic" dy="6">α</tspan><tspan dy="-6"> density (g cm</tspan><tspan font-size="19" dy="-11">−3</tspan><tspan dy="11">)</tspan></text>
<line x1="913" y1="978.5" x2="936.3" y2="978.5" stroke="#000" stroke-width="3"/>
<line x1="913" y1="1007.3" x2="936.3" y2="1007.3" stroke="#808080" stroke-width="3"/>
<line x1="913" y1="1037.4" x2="936.3" y2="1037.4" stroke="#ef7198" stroke-width="3"/>
<text class="lg" x="951.8" y="985.1">Empty</text>
<text class="lg" x="951.8" y="1013.9">Empty (rep.)</text>
<text class="lg" x="951.8" y="1043.4">Slow</text>

<!-- ================= PANEL F ================= -->
<line x1="122.5" y1="1275" x2="450" y2="1275" stroke="#4b6fd8" stroke-width="3" stroke-dasharray="20 5 4 5"/>
<polyline class="ln" stroke="#000" points="122.5,1410.2 124.3,1376.2 126.9,1368.4 133.4,1357.9 141.3,1344.8 149.1,1323.9 157,1310.8 164.8,1301.7 170.1,1292.5 177.9,1288.6 183.1,1282 188.4,1271.6 196.2,1266.3 204.1,1262.4 209.3,1255.9 219.8,1255.9 227.6,1252 235.5,1249.3 240,1247 245.9,1246.7 251,1249 256.4,1249.3 266.9,1250.1 272,1248 277.3,1248 287.8,1245.4 293,1246 298.3,1248 303.5,1250.7 309,1248 314,1248 319,1250.5 324.4,1249.3 331,1246.7 334,1248 337.5,1253.3"/>
<polyline class="ln" stroke="#808080" points="122.5,1263.7 126,1261 130.8,1259.8 136,1258.5 142.6,1257.2 151.8,1236.3 159.6,1232.3 165,1233.5 172.7,1232.3 177.9,1235 183,1234 188.4,1236.3 196.2,1235"/>
<polyline class="ln" stroke="#ef7198" points="122.5,1357.9 128.2,1346.1 136.1,1330.4 141.3,1363.1 149.1,1368.4 154,1365 159.6,1364.4 170.1,1355.3 176,1353 183.1,1349.5 190,1347 196.2,1343.5 205,1341 214.5,1339.6 220,1336 227.6,1334.4 236,1331 245.9,1329.1 256,1326 266.9,1323.9 277,1322.5 287.8,1321.3 298,1320 308.7,1321.3 318,1318 327,1316 336,1315.5 345.3,1314.7 356,1313 366.3,1312.1 377,1311 387.2,1310.8 400,1311.5 413.4,1309.5 424,1311 434.3,1312.1 442,1310.5 450,1314.7"/>
<rect class="sp" x="122.5" y="1206" width="327.5" height="278"/>
<path class="tk" d="M286.3 1484v-18M204.4 1484v-9.5M368.1 1484v-9.5M286.3 1206v18M204.4 1206v9.5M368.1 1206v9.5M122.5 1317.2h18M122.5 1428.4h18M122.5 1261.6h9.5M122.5 1372.8h9.5M450 1317.2h-18M450 1428.4h-18M450 1261.6h-9.5M450 1372.8h-9.5"/>
<text class="t" x="122.5" y="1515" text-anchor="middle">0.0</text>
<text class="t" x="286.3" y="1515" text-anchor="middle">0.5</text>
<text class="t" x="450" y="1515" text-anchor="middle">1.0</text>
<text class="t" x="112" y="1213" text-anchor="end">0</text>
<text class="t" x="112" y="1324" text-anchor="end">−20</text>
<text class="t" x="112" y="1435" text-anchor="end">−40</text>
<text class="ax" x="287" y="1554" text-anchor="middle">Time (<tspan font-style="italic">μ</tspan>s)</text>
<text class="ax" transform="translate(42,1352) rotate(-90)" text-anchor="middle">Average protein 7-mer</text>
<text class="ax" transform="translate(69,1352) rotate(-90)" text-anchor="middle">radial dipole moment (e nm)</text>
<line x1="270.8" y1="1357.4" x2="294.3" y2="1357.4" stroke="#000" stroke-width="3"/>
<line x1="270.8" y1="1386.7" x2="294.3" y2="1386.7" stroke="#808080" stroke-width="3"/>
<line x1="270.8" y1="1416.2" x2="294.3" y2="1416.2" stroke="#ef7198" stroke-width="3"/>
<line x1="270.8" y1="1445" x2="294.3" y2="1445" stroke="#4b6fd8" stroke-width="3"/>
<text class="lg" x="310" y="1364.4">Empty</text>
<text class="lg" x="310" y="1393.7">Empty (rep.)</text>
<text class="lg" x="310" y="1423">Slow</text>
<text class="lg" x="310" y="1452">x-ray</text>

<!-- ================= PANEL G ================= -->
<g>
<g fill="#b3b54a">
<circle cx="654.1" cy="1197" r="3.2"/><circle cx="743.1" cy="1202.2" r="3.2"/><circle cx="591.9" cy="1221.8" r="3.2"/><circle cx="784.1" cy="1254.5" r="3.2"/><circle cx="514.2" cy="1293.8" r="3.2"/><circle cx="559.2" cy="1295.1" r="3.2"/><circle cx="520.2" cy="1362.3" r="3.2"/><circle cx="852.4" cy="1364.4" r="3.2"/><circle cx="804" cy="1420.6" r="3.2"/><circle cx="571.7" cy="1469.8" r="3.2"/><circle cx="793.3" cy="1491.8" r="3.2"/><circle cx="633.7" cy="1517.4" r="3.2"/><circle cx="692.1" cy="1533.9" r="3.2"/>
</g>
<g fill="#3f93c2">
<circle cx="645" cy="1228.4" r="3.2"/><circle cx="711.1" cy="1223.9" r="3.2"/><circle cx="774.5" cy="1227.8" r="3.2"/><circle cx="543.7" cy="1253.7" r="3.2"/><circle cx="855" cy="1310.8" r="3.2"/><circle cx="504.2" cy="1392.6" r="3.2"/><circle cx="848" cy="1420.1" r="3.2"/><circle cx="822.1" cy="1457.3" r="3.2"/><circle cx="536.4" cy="1490.8" r="3.2"/><circle cx="745.2" cy="1500.4" r="3.2"/><circle cx="606.5" cy="1539.1" r="3.2"/>
</g>
<circle cx="683.6" cy="1367.5" r="116.8" fill="none" stroke="#c8c8c8" stroke-width="13.5"/>
<circle cx="683.6" cy="1367.5" r="124.3" fill="none" stroke="#1a1ae0" stroke-width="3.6"/>
<circle cx="683.6" cy="1367.5" r="109.3" fill="none" stroke="#e8141e" stroke-width="3"/>
<line x1="684.2" y1="1367" x2="781" y2="1317.3" stroke="#111" stroke-width="2.6" marker-end="url(#ahb)"/>
<text font-size="19" transform="translate(664,1361) rotate(-27.2)"><tspan font-style="italic">r</tspan><tspan font-size="12" dy="5">inner</tspan><tspan dy="-5"> = 29.5 nm</tspan></text>
<text font-size="18.5" x="774.5" y="1278"><tspan font-style="italic">d</tspan> = 1.5 nm</text>
<path d="M791.5 1289V1368M809 1289V1368" stroke="#000" stroke-width="1.6" stroke-dasharray="3 2" fill="none"/>
<line x1="793" y1="1288.5" x2="807.5" y2="1288.5" stroke="#000" stroke-width="1.3" marker-end="url(#ahs)" marker-start="url(#ahs)"/>
<polyline points="578.3,1317.3 601.8,1326.5 590,1334.3 596.6,1339.5 614.9,1343.5" fill="none" stroke="#000" stroke-width="1.3" marker-end="url(#ahs)"/>
<text font-size="22" x="616" y="1356" style="fill:#e020d8"><tspan font-style="italic">ε</tspan><tspan font-size="14" dy="4">pro</tspan></text>
<polyline points="591.3,1422 601.8,1416.7 599.2,1423.2 607,1420.6 605.7,1422.7 617.5,1418" fill="none" stroke="#000" stroke-width="1.3" marker-end="url(#ahs)"/>
<text font-size="21" x="620" y="1420.6"><tspan font-style="italic">q</tspan><tspan font-size="14" dy="4">inside</tspan><tspan dy="-4"> + </tspan><tspan font-style="italic" style="fill:#e020d8">q</tspan><tspan font-size="14" dy="4" style="fill:#e020d8">extra</tspan></text>
<polyline points="573,1429.8 562.6,1431.1 565.2,1434.2 556,1433.2 557.3,1431.1 547.4,1432.4" fill="none" stroke="#000" stroke-width="1.3" marker-end="url(#ahs)"/>
<text font-size="21" x="509" y="1441.6">−<tspan font-style="italic" style="fill:#e020d8">q</tspan><tspan font-size="14" dy="4" style="fill:#e020d8">extra</tspan></text>
</g>

<!-- ================= PANEL H ================= -->
<g clip-path="url(#ch)">
<g fill="#000">
<circle cx="1006" cy="1461.2" r="7.8"/><circle cx="1023" cy="1339.6" r="7.8"/><circle cx="1037.4" cy="1304.3" r="7.8"/><circle cx="1055.7" cy="1289.9" r="7.8"/><circle cx="1070.1" cy="1288.6" r="7.8"/><circle cx="1088.4" cy="1279.4" r="7.8"/><circle cx="1104.1" cy="1278.1" r="7.8"/><circle cx="1121.1" cy="1276.8" r="7.8"/><circle cx="1137.3" cy="1276.3" r="7.8"/><circle cx="1153.3" cy="1276.8" r="7.8"/><circle cx="1169.5" cy="1276.3" r="7.8"/><circle cx="1186.5" cy="1275.5" r="7.8"/><circle cx="1203" cy="1276.8" r="7.8"/><circle cx="1219.2" cy="1275.5" r="7.8"/><circle cx="1233.6" cy="1276.8" r="7.8"/>
</g>
<g fill="#888">
<circle cx="1006" cy="1235.5" r="7.8"/><circle cx="1023" cy="1247.5" r="7.8"/><circle cx="1039.2" cy="1263.2" r="7.8"/><circle cx="1055.7" cy="1272.9" r="7.8"/><circle cx="1072.2" cy="1272.1" r="7.8"/>
</g>
<g fill="#f27b9e">
<circle cx="1013.8" cy="1373.6" r="7.8"/><circle cx="1047.3" cy="1312.1" r="7.8"/><circle cx="1079.2" cy="1299" r="7.8"/><circle cx="1112" cy="1289.9" r="7.8"/><circle cx="1144.6" cy="1286.8" r="7.8"/><circle cx="1177.4" cy="1283.3" r="7.8"/><circle cx="1210.1" cy="1281.5" r="7.8"/><circle cx="1242.7" cy="1278.1" r="7.8"/><circle cx="1275.5" cy="1279.4" r="7.8"/><circle cx="1308.3" cy="1280.2" r="7.8"/>
</g>
<polyline fill="none" stroke="#f38aab" stroke-width="3" stroke-dasharray="9 4.5" points="999.5,1425.9 1003.4,1386.7 1007.3,1360.6 1012.6,1334.4 1020.4,1321.3 1033.5,1316 1049.2,1310.8 1064.9,1303 1078,1297.7 1091.1,1293.8 1104.1,1292.5 1117.2,1296.4 1130.3,1297.7 1143.4,1289.9 1156.5,1284.7 1182.6,1283.3 1208.8,1282 1235,1279.4 1261.1,1279.4 1287.3,1280.7 1325.2,1282"/>
<polyline fill="none" stroke="#333" stroke-width="3" stroke-dasharray="9 4.5" points="1002.1,1484.8 1003.4,1439 1006,1386.7 1008.6,1347.5 1012.6,1326.6 1017.8,1318.7 1025.6,1310.8 1036.1,1303 1051.8,1292.5 1067.5,1284.7 1083.2,1282.1 1104.1,1280.7 1130.3,1279.4 1156.5,1278.1 1195.7,1278.1 1234.9,1278.1"/>
<polyline fill="none" stroke="#999" stroke-width="3" stroke-dasharray="9 4.5" points="998.7,1221.9 1004.7,1218 1012.6,1229.7 1025.6,1250.7 1038.7,1263.7 1051.8,1274.2 1064.9,1280.7 1072.7,1284.7"/>
</g>
<rect class="sp" x="998.7" y="1206.2" width="326.5" height="278.6"/>
<path class="tk" d="M1162 1484.8v-18M1080.3 1484.8v-9.5M1243.6 1484.8v-9.5M1162 1206.2v18M1080.3 1206.2v9.5M1243.6 1206.2v9.5M998.7 1276.3h18M998.7 1415.5h18M998.7 1345.9h9.5M1325.2 1276.3h-18M1325.2 1415.5h-18M1325.2 1345.9h-18"/>
<text class="t" x="998.7" y="1515" text-anchor="middle">0.0</text>
<text class="t" x="1162" y="1515" text-anchor="middle">0.5</text>
<text class="t" x="1325.2" y="1515" text-anchor="middle">1.0</text>
<text class="t" x="988" y="1283" text-anchor="end">0</text>
<text class="t" x="988" y="1422" text-anchor="end">−500</text>
<text class="ax" x="1164" y="1554" text-anchor="middle">Time (<tspan font-style="italic">μ</tspan>s)</text>
<text class="ax" transform="translate(925,1345) rotate(-90)" text-anchor="middle">Potential difference (mV)</text>
<circle cx="1157.7" cy="1357.9" r="7.8" fill="#000"/>
<circle cx="1157.7" cy="1388" r="7.8" fill="#888"/>
<circle cx="1157.7" cy="1417.5" r="7.8" fill="#f27b9e"/>
<line x1="1147" y1="1445.5" x2="1168" y2="1445.5" stroke="#888" stroke-width="3" stroke-dasharray="9 4 3 4"/>
<text class="lg" x="1185.2" y="1364.4">Empty</text>
<text class="lg" x="1185.2" y="1393.7">Empty (rep.)</text>
<text class="lg" x="1185.2" y="1423.3">Slow</text>
<text class="lg" x="1185.2" y="1452">Model</text>
</svg>
</body></html>
